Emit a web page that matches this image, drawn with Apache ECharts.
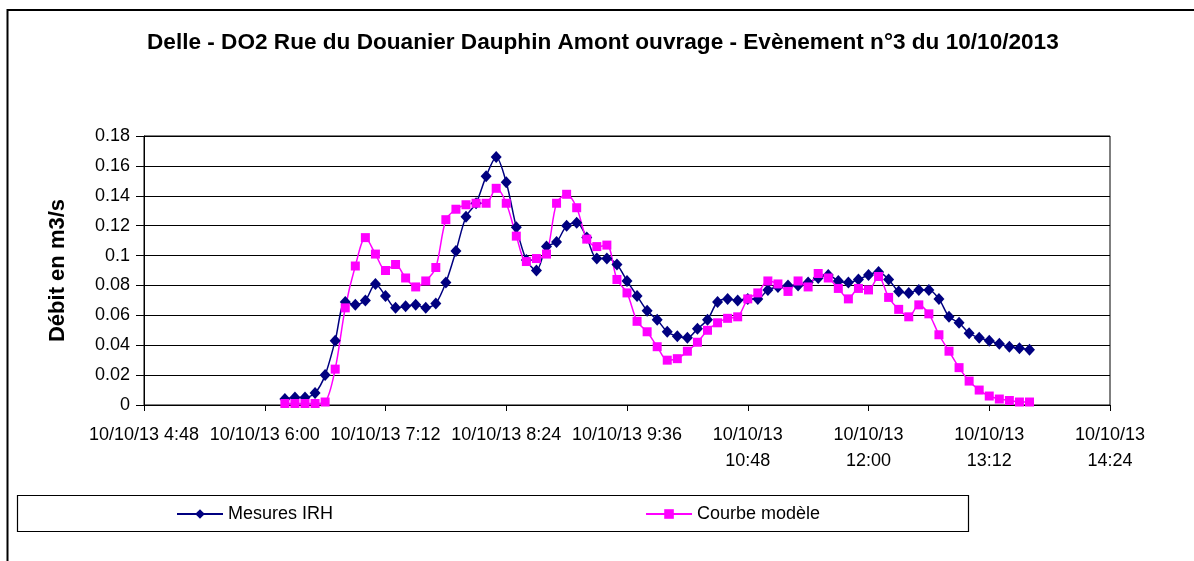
<!DOCTYPE html>
<html>
<head>
<meta charset="utf-8">
<script src="https://cdn.jsdelivr.net/npm/echarts@6/dist/echarts.min.js"></script>
<style>
  html, body { margin: 0; padding: 0; background: #fff; }
  #main { width: 1194px; height: 561px; }
</style>
</head>
<body>
<div id="main"></div>
<script>
// heures des mesures (10/10/2013)
var times = [
  "6:12", "6:18", "6:24", "6:30", "6:36", "6:42", "6:48", "6:54",
  "7:00", "7:06", "7:12", "7:18", "7:24", "7:30", "7:36", "7:42", "7:48", "7:54",
  "8:00", "8:06", "8:12", "8:18", "8:24", "8:30", "8:36", "8:42", "8:48", "8:54",
  "9:00", "9:06", "9:12", "9:18", "9:24", "9:30", "9:36", "9:42", "9:48", "9:54",
  "10:00", "10:06", "10:12", "10:18", "10:24", "10:30", "10:36", "10:42", "10:48", "10:54",
  "11:00", "11:06", "11:12", "11:18", "11:24", "11:30", "11:36", "11:42", "11:48", "11:54",
  "12:00", "12:06", "12:12", "12:18", "12:24", "12:30", "12:36", "12:42", "12:48", "12:54",
  "13:00", "13:06", "13:12", "13:18", "13:24", "13:30", "13:36"
];
// Mesures IRH (m3/s)
var mesures = [
  0.004, 0.005, 0.005, 0.008, 0.020, 0.043, 0.069, 0.067, 0.070, 0.081,
  0.073, 0.065, 0.066, 0.067, 0.065, 0.068, 0.082, 0.103, 0.126, 0.135,
  0.153, 0.166, 0.149, 0.119, 0.097, 0.090, 0.106, 0.109, 0.120, 0.122,
  0.112, 0.098, 0.098, 0.094, 0.083, 0.073, 0.063, 0.057, 0.049, 0.046,
  0.045, 0.051, 0.057, 0.069, 0.071, 0.070, 0.071, 0.071, 0.077, 0.079,
  0.080, 0.080, 0.082, 0.085, 0.087, 0.083, 0.082, 0.084, 0.087, 0.089,
  0.084, 0.076, 0.075, 0.077, 0.077, 0.071, 0.059, 0.055, 0.048, 0.045,
  0.043, 0.041, 0.039, 0.038, 0.037
];
// Courbe modèle (m3/s)
var modele = [
  0.001, 0.001, 0.001, 0.001, 0.002, 0.024, 0.065, 0.093, 0.112, 0.101,
  0.090, 0.094, 0.085, 0.079, 0.083, 0.092, 0.124, 0.131, 0.134, 0.135,
  0.135, 0.145, 0.135, 0.113, 0.096, 0.098, 0.101, 0.135, 0.141, 0.132,
  0.111, 0.106, 0.107, 0.084, 0.075, 0.056, 0.049, 0.039, 0.030, 0.031,
  0.036, 0.042, 0.050, 0.055, 0.058, 0.059, 0.071, 0.075, 0.083, 0.081,
  0.076, 0.083, 0.079, 0.088, 0.085, 0.078, 0.071, 0.078, 0.077, 0.086,
  0.072, 0.064, 0.059, 0.067, 0.061, 0.047, 0.036, 0.025, 0.016, 0.010,
  0.006, 0.004, 0.003, 0.002, 0.002
];

var FONT = "'Liberation Sans', Arial, sans-serif";

// minutes depuis minuit
function toMin(t) {
  var p = t.split(":");
  return parseInt(p[0], 10) * 60 + parseInt(p[1], 10);
}
function pairs(vals) {
  var out = [];
  for (var i = 0; i < times.length; i++) {
    out.push([toMin(times[i]), vals[i]]);
  }
  return out;
}

var chart = echarts.init(document.getElementById("main"), null, { renderer: "canvas" });
chart.setOption({
  animation: false,
  backgroundColor: "#fff",
  textStyle: { fontFamily: FONT },
  title: {
    text: "Delle - DO2 Rue du Douanier Dauphin Amont ouvrage - Evènement n°3 du 10/10/2013",
    left: 147,
    top: 31,
    padding: 0,
    textStyle: { fontFamily: FONT, fontSize: 22.6, fontWeight: "bold", color: "#000", lineHeight: 24 }
  },
  grid: {
    left: 144,
    right: 84,
    top: 136,
    bottom: 156,
    show: true,
    borderColor: "#000",
    borderWidth: 1,
    containLabel: false
  },
  legend: {
    left: 176,
    top: 505,
    padding: 0,
    itemWidth: 46,
    itemHeight: 12,
    itemGap: 312,
    textStyle: { fontFamily: FONT, fontSize: 18, color: "#000" },
    data: ["Mesures IRH", "Courbe modèle"]
  },
  xAxis: {
    type: "value",
    min: 288,
    max: 864,
    interval: 72,
    splitLine: { show: false },
    axisLine: { lineStyle: { color: "#000", width: 1 } },
    axisTick: { show: true, length: 6, lineStyle: { color: "#000" } },
    axisLabel: {
      margin: 17,
      fontFamily: FONT,
      fontSize: 18,
      lineHeight: 26,
      color: "#000",
      formatter: function (v) {
        var h = Math.floor(v / 60), m = v % 60;
        var hm = h + ":" + (m < 10 ? "0" + m : m);
        return h >= 10 ? "10/10/13\n" + hm : "10/10/13 " + hm;
      }
    }
  },
  yAxis: {
    type: "value",
    min: 0,
    max: 0.18,
    interval: 0.02,
    name: "Débit en m3/s",
    nameLocation: "middle",
    nameRotate: 90,
    nameGap: 75,
    nameTextStyle: { fontFamily: FONT, fontSize: 22, fontWeight: "bold", color: "#000" },
    axisLine: { show: true, lineStyle: { color: "#000", width: 1 } },
    axisTick: { show: true, length: 8, lineStyle: { color: "#000" } },
    splitLine: { show: true, lineStyle: { color: "#000", width: 1 } },
    axisLabel: {
      margin: 14,
      fontFamily: FONT,
      fontSize: 18,
      color: "#000",
      formatter: function (v) { return String(+v.toFixed(2)); }
    }
  },
  graphic: [
    {
      type: "rect",
      silent: true,
      shape: { x: 7.5, y: 10, width: 1400, height: 800 },
      style: { fill: null, stroke: "#000", lineWidth: 2 }
    },
    {
      type: "rect",
      silent: true,
      shape: { x: 17.5, y: 495.5, width: 951, height: 36 },
      style: { fill: null, stroke: "#000", lineWidth: 1.2 }
    }
  ],
  series: [
    {
      name: "Mesures IRH",
      type: "line",
      smooth: 0.3,
      symbol: "diamond",
      symbolSize: [11, 12],
      color: "#000080",
      lineStyle: { color: "#000080", width: 1.5 },
      itemStyle: { color: "#000080" },
      data: pairs(mesures)
    },
    {
      name: "Courbe modèle",
      type: "line",
      smooth: 0.3,
      symbol: "rect",
      symbolSize: 9,
      color: "#ff00ff",
      lineStyle: { color: "#ff00ff", width: 1.5 },
      itemStyle: { color: "#ff00ff" },
      data: pairs(modele)
    }
  ]
});
</script>
</body>
</html>
